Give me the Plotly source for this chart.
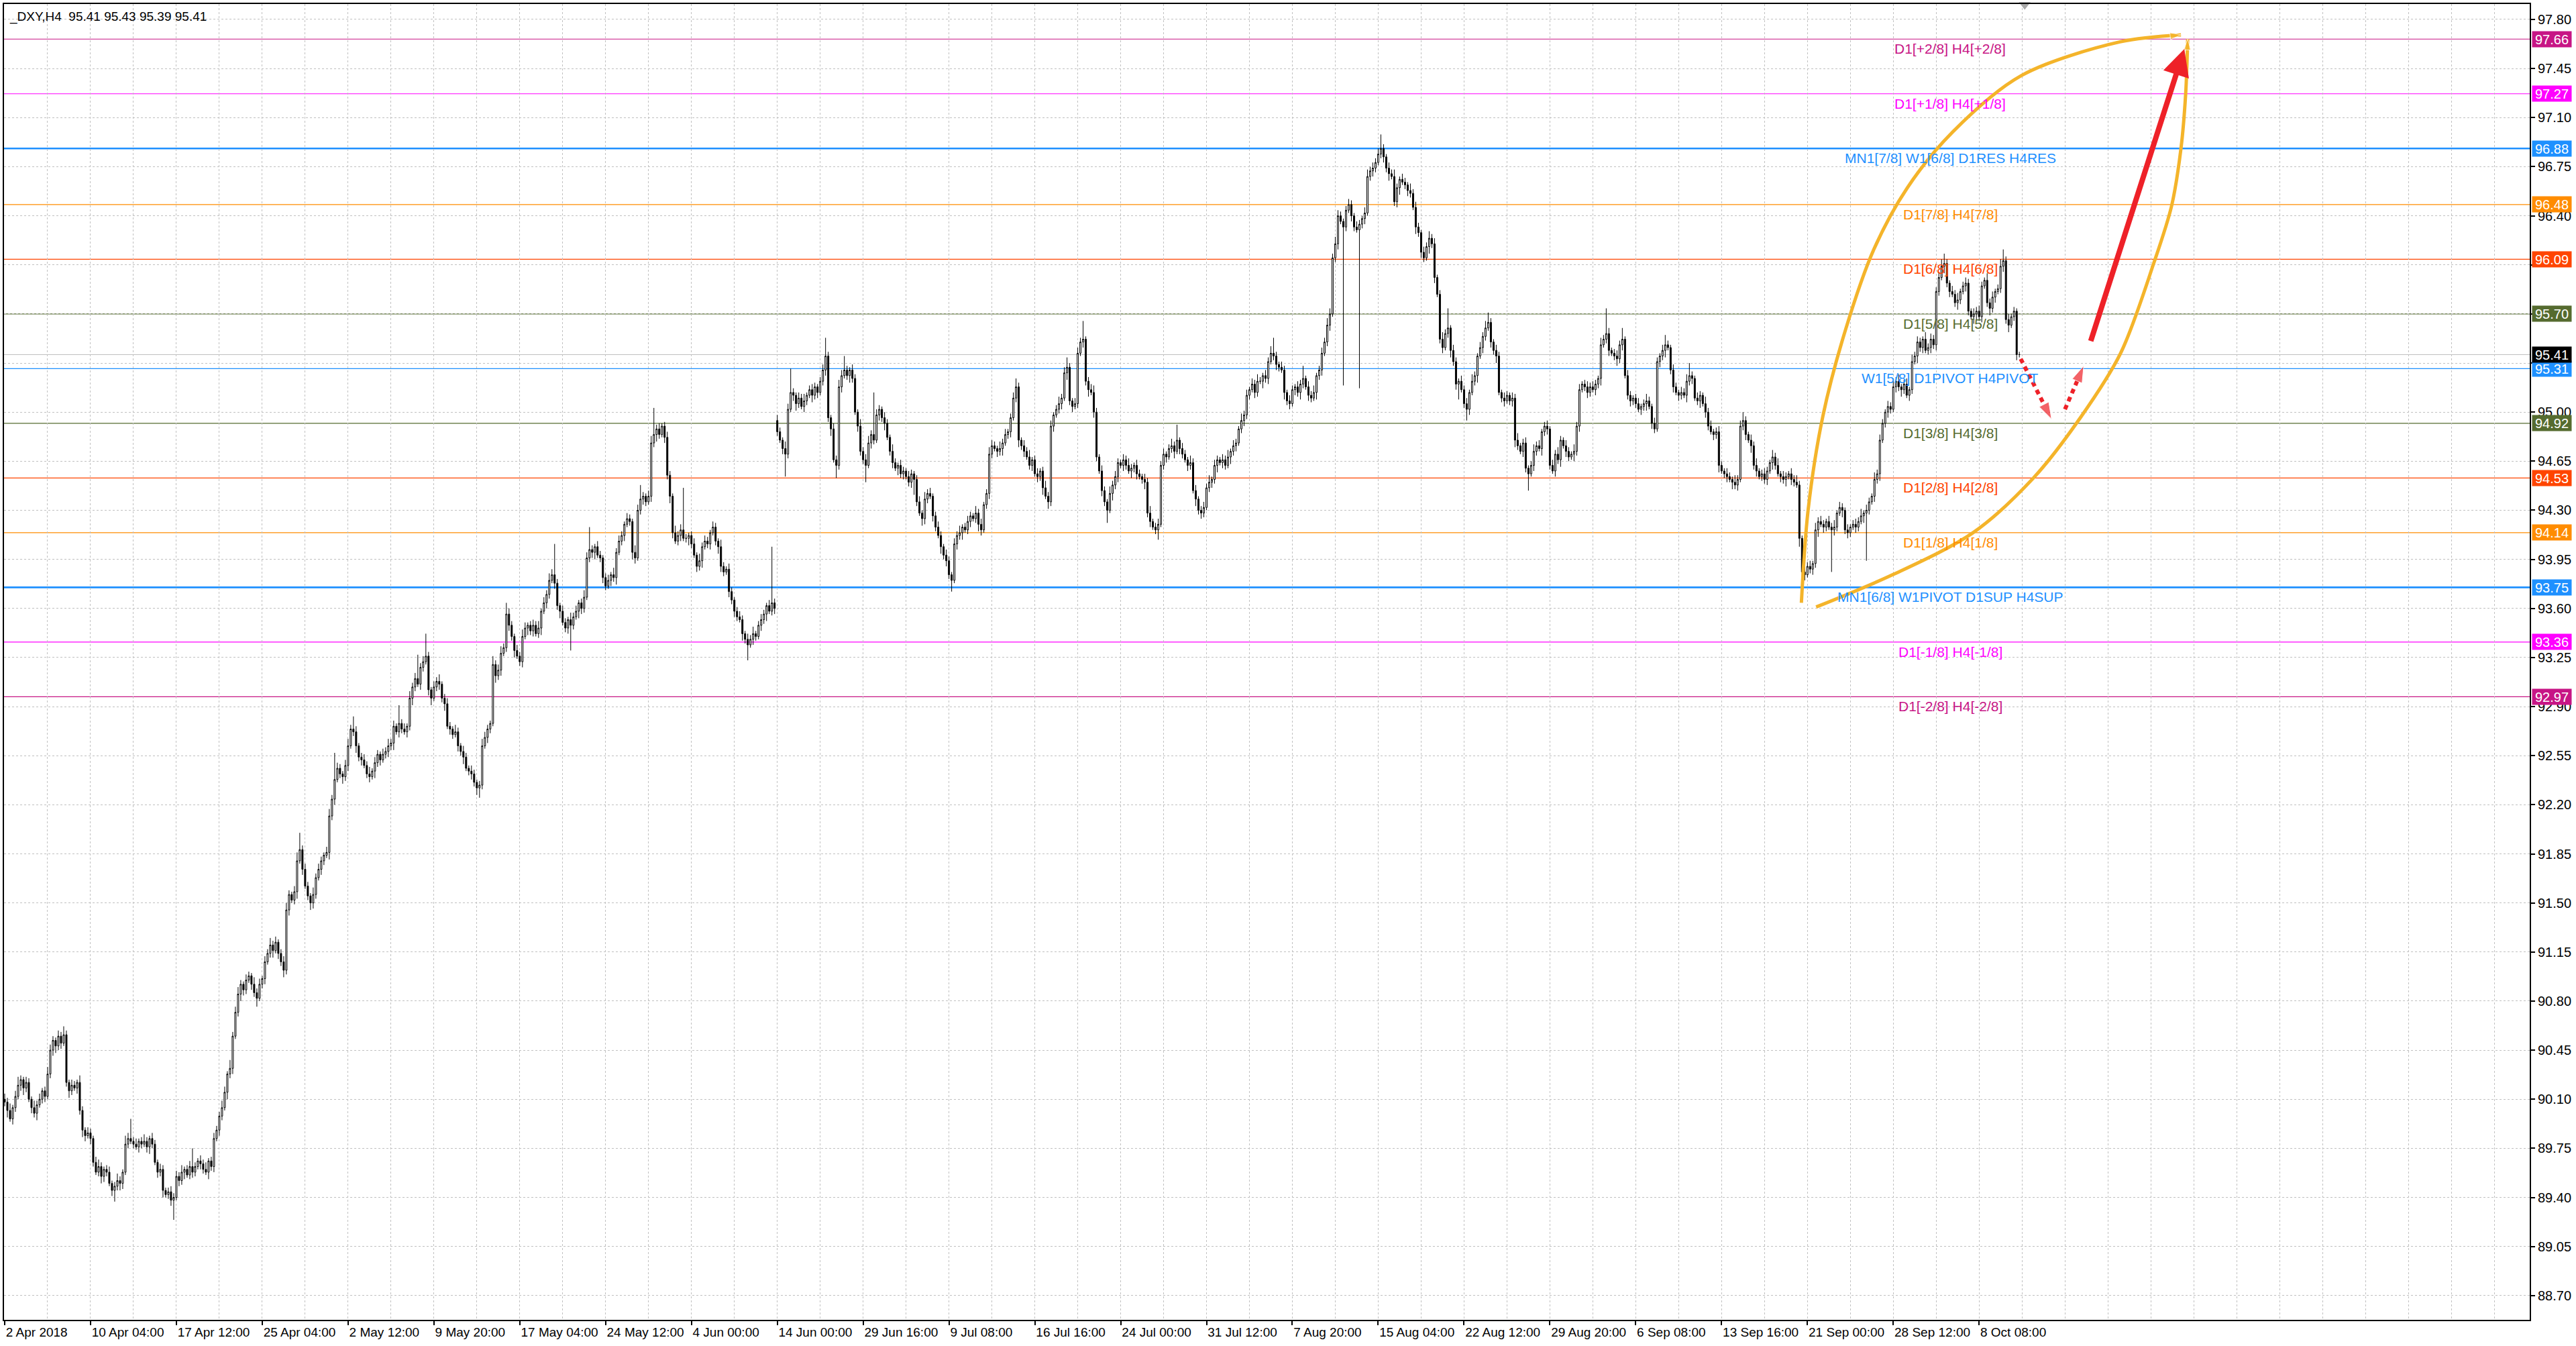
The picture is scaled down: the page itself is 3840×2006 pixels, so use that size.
import plotly.graph_objects as go

# _DXY H4 candles, 2 Apr 2018 .. 10 Oct 2018 (one row = 16 bars)
closes = [
    90.08, 90.02, 89.96, 90.04, 90.12, 90.20, 90.24, 90.18, 90.22, 90.10, 90.04, 90.00, 90.06, 90.10, 90.16, 90.12,
    90.28, 90.45, 90.52, 90.48, 90.55, 90.50, 90.56, 90.22, 90.16, 90.20, 90.18, 90.22, 90.02, 89.88, 89.84, 89.86,
    89.82, 89.65, 89.58, 89.62, 89.55, 89.60, 89.58, 89.50, 89.45, 89.48, 89.52, 89.50, 89.58, 89.78, 89.82, 89.80,
    89.78, 89.76, 89.80, 89.78, 89.80, 89.76, 89.82, 89.78, 89.65, 89.58, 89.60, 89.45, 89.42, 89.44, 89.38, 89.40,
    89.55, 89.52, 89.58, 89.60, 89.56, 89.62, 89.58, 89.62, 89.66, 89.64, 89.60, 89.58, 89.66, 89.62, 89.82, 89.88,
    89.98, 90.04, 90.15, 90.28, 90.32, 90.55, 90.72, 90.85, 90.92, 90.88, 90.95, 90.98, 90.92, 90.86, 90.82, 90.92,
    90.96, 91.08, 91.14, 91.20, 91.16, 91.22, 91.14, 91.08, 91.02, 91.45, 91.56, 91.52, 91.58, 91.80, 91.88, 91.74,
    91.62, 91.55, 91.50, 91.56, 91.68, 91.74, 91.80, 91.84, 91.86, 92.12, 92.24, 92.38, 92.46, 92.42, 92.40, 92.48,
    92.62, 92.74, 92.72, 92.62, 92.54, 92.52, 92.48, 92.42, 92.40, 92.44, 92.50, 92.56, 92.52, 92.56, 92.58, 92.62,
    92.64, 92.76, 92.72, 92.78, 92.74, 92.72, 92.76, 92.96, 93.04, 93.10, 93.06, 93.18, 93.22, 93.26, 93.02, 92.96,
    93.04, 93.08, 93.06, 92.96, 92.92, 92.76, 92.74, 92.70, 92.72, 92.62, 92.58, 92.54, 92.46, 92.44, 92.42, 92.36,
    92.32, 92.34, 92.62, 92.68, 92.74, 92.78, 93.20, 93.12, 93.16, 93.28, 93.32, 93.56, 93.48, 93.40, 93.30, 93.26,
    93.22, 93.40, 93.46, 93.48, 93.44, 93.48, 93.42, 93.46, 93.58, 93.64, 93.70, 93.80, 93.84, 93.78, 93.62, 93.58,
    93.50, 93.46, 93.52, 93.48, 93.54, 93.58, 93.64, 93.60, 93.68, 93.96, 94.02, 94.00, 94.04, 93.98, 93.96, 93.82,
    93.76, 93.80, 93.84, 93.82, 94.00, 94.08, 94.12, 94.20, 94.24, 94.22, 94.00, 93.96, 94.30, 94.38, 94.40, 94.36,
    94.40, 94.78, 94.84, 94.88, 94.84, 94.90, 94.82, 94.55, 94.40, 94.14, 94.08, 94.12, 94.16, 94.10, 94.10, 94.12,
    94.06, 93.98, 93.90, 93.94, 94.04, 94.08, 94.06, 94.14, 94.18, 94.08, 94.04, 93.90, 93.86, 93.88, 93.72, 93.66,
    93.58, 93.54, 93.52, 93.42, 93.38, 93.34, 93.38, 93.42, 93.40, 93.48, 93.52, 93.56, 93.62, 93.58, 93.64, 93.60,
    94.86, 94.80, 94.74, 94.70, 95.02, 95.14, 95.12, 95.06, 95.10, 95.04, 95.08, 95.12, 95.16, 95.12, 95.18, 95.14,
    95.22, 95.30, 95.40, 94.96, 94.88, 94.66, 94.62, 95.18, 95.26, 95.30, 95.26, 95.30, 95.24, 95.00, 94.90, 94.72,
    94.66, 94.62, 94.78, 94.84, 94.80, 94.98, 95.02, 94.96, 94.92, 94.82, 94.72, 94.64, 94.60, 94.62, 94.56, 94.58,
    94.54, 94.50, 94.56, 94.52, 94.36, 94.28, 94.24, 94.38, 94.42, 94.40, 94.26, 94.18, 94.12, 94.04, 93.98, 93.94,
    93.84, 93.80, 94.06, 94.12, 94.14, 94.18, 94.16, 94.22, 94.26, 94.24, 94.28, 94.20, 94.16, 94.34, 94.42, 94.70,
    94.76, 94.74, 94.72, 94.74, 94.78, 94.84, 94.86, 94.96, 95.10, 95.18, 94.80, 94.76, 94.72, 94.68, 94.62, 94.66,
    94.56, 94.54, 94.58, 94.46, 94.40, 94.36, 94.90, 94.98, 95.02, 95.06, 95.10, 95.28, 95.32, 95.08, 95.04, 95.06,
    95.42, 95.50, 95.52, 95.22, 95.16, 95.14, 95.00, 94.68, 94.58, 94.44, 94.36, 94.30, 94.42, 94.48, 94.54, 94.64,
    94.62, 94.66, 94.62, 94.58, 94.60, 94.62, 94.56, 94.54, 94.52, 94.50, 94.28, 94.22, 94.18, 94.16, 94.20, 94.62,
    94.70, 94.68, 94.74, 94.76, 94.72, 94.80, 94.74, 94.70, 94.66, 94.62, 94.64, 94.44, 94.38, 94.30, 94.28, 94.32,
    94.46, 94.50, 94.52, 94.62, 94.66, 94.64, 94.66, 94.62, 94.68, 94.72, 94.76, 94.78, 94.88, 94.94, 94.98, 95.12,
    95.16, 95.20, 95.14, 95.22, 95.22, 95.26, 95.24, 95.36, 95.42, 95.40, 95.34, 95.32, 95.30, 95.14, 95.08, 95.06,
    95.16, 95.18, 95.14, 95.20, 95.24, 95.18, 95.12, 95.10, 95.14, 95.26, 95.30, 95.42, 95.50, 95.62, 95.70, 96.10,
    96.20, 96.40, 96.36, 96.32, 96.44, 96.48, 96.40, 96.32, 96.30, 96.34, 96.38, 96.42, 96.68, 96.72, 96.74, 96.78,
    96.84, 96.88, 96.82, 96.74, 96.70, 96.68, 96.50, 96.60, 96.66, 96.64, 96.62, 96.58, 96.56, 96.46, 96.32, 96.28,
    96.14, 96.10, 96.18, 96.24, 96.20, 95.96, 95.84, 95.52, 95.46, 95.56, 95.60, 95.44, 95.36, 95.20, 95.22, 95.16,
    95.06, 95.02, 95.14, 95.22, 95.26, 95.40, 95.46, 95.54, 95.60, 95.64, 95.50, 95.44, 95.40, 95.14, 95.10, 95.08,
    95.12, 95.08, 95.10, 94.80, 94.76, 94.72, 94.78, 94.60, 94.56, 94.62, 94.72, 94.76, 94.74, 94.86, 94.90, 94.88,
    94.62, 94.58, 94.70, 94.66, 94.80, 94.76, 94.72, 94.68, 94.70, 94.72, 94.90, 95.16, 95.20, 95.18, 95.14, 95.18,
    95.16, 95.20, 95.24, 95.48, 95.52, 95.56, 95.44, 95.42, 95.40, 95.38, 95.48, 95.52, 95.26, 95.12, 95.08, 95.10,
    95.06, 95.02, 95.04, 95.06, 95.08, 95.04, 94.92, 94.88, 95.36, 95.40, 95.44, 95.48, 95.46, 95.30, 95.18, 95.14,
    95.12, 95.14, 95.12, 95.22, 95.26, 95.24, 95.10, 95.08, 95.12, 95.06, 95.00, 94.90, 94.86, 94.84, 94.86, 94.62,
    94.58, 94.56, 94.54, 94.52, 94.50, 94.48, 94.52, 94.90, 94.94, 94.84, 94.80, 94.76, 94.62, 94.58, 94.54, 94.56,
    94.52, 94.58, 94.64, 94.68, 94.62, 94.56, 94.54, 94.52, 94.54, 94.56, 94.52, 94.50, 94.48, 94.10, 93.86, 93.84,
    93.90, 93.88, 93.92, 94.16, 94.22, 94.20, 94.18, 94.22, 94.18, 94.16, 94.18, 94.28, 94.32, 94.30, 94.16, 94.14,
    94.18, 94.20, 94.18, 94.22, 94.26, 94.28, 94.30, 94.36, 94.40, 94.52, 94.56, 94.80, 94.92, 95.00, 95.04, 95.02,
    95.18, 95.22, 95.18, 95.16, 95.20, 95.12, 95.16, 95.36, 95.40, 95.50, 95.46, 95.52, 95.44, 95.46, 95.52, 95.48,
    95.86, 95.96, 96.04, 96.06, 95.92, 95.86, 95.84, 95.78, 95.80, 95.86, 95.90, 95.92, 95.72, 95.68, 95.70, 95.72,
    95.68, 95.90, 95.94, 95.78, 95.74, 95.82, 95.86, 95.88, 96.04, 96.08, 95.66, 95.62, 95.68, 95.72, 95.41, 95.41,
]

# wick lengths above / below the body, in hundredths
upper_wicks = [
    4, 3, 5, 2, 4, 6, 3, 2, 4, 3, 2, 5, 3, 4, 2, 3,
    5, 4, 3, 2, 4, 3, 6, 3, 2, 4, 3, 2, 5, 3, 2, 4,
    3, 2, 4, 5, 3, 2, 3, 4, 2, 3, 5, 3, 2, 6, 4, 14,
    3, 4, 2, 3, 5, 3, 2, 4, 3, 2, 4, 3, 2, 3, 4, 3,
    4, 3, 5, 2, 3, 4, 13, 3, 2, 4, 3, 5, 2, 3, 4, 3,
    3, 5, 4, 2, 6, 3, 4, 5, 3, 2, 4, 3, 2, 5, 3, 4,
    2, 4, 3, 5, 3, 4, 2, 3, 4, 5, 3, 2, 4, 6, 12, 3,
    4, 3, 2, 5, 3, 4, 3, 2, 4, 5, 3, 19, 4, 3, 2, 4,
    5, 3, 9, 4, 2, 3, 4, 3, 5, 2, 4, 3, 2, 4, 3, 5,
    3, 4, 2, 13, 3, 4, 2, 5, 3, 4, 17, 3, 4, 16, 3, 2,
    4, 3, 5, 2, 3, 4, 3, 2, 5, 3, 2, 4, 3, 2, 4, 3,
    2, 3, 5, 4, 3, 2, 6, 3, 4, 5, 3, 8, 4, 3, 2, 4,
    3, 5, 4, 2, 3, 4, 3, 5, 2, 4, 3, 5, 4, 22, 3, 2,
    4, 3, 2, 5, 3, 4, 2, 3, 5, 4, 16, 3, 2, 4, 3, 2,
    3, 4, 2, 5, 3, 4, 3, 2, 4, 3, 2, 5, 4, 10, 3, 2,
    4, 5, 19, 3, 4, 2, 3, 4, 3, 2, 5, 3, 4, 30, 3, 2,
    3, 4, 2, 5, 3, 4, 3, 2, 4, 3, 2, 5, 3, 2, 4, 3,
    2, 3, 4, 3, 2, 4, 3, 5, 2, 3, 4, 3, 2, 4, 40, 3,
    4, 3, 2, 5, 4, 17, 3, 2, 4, 3, 5, 2, 3, 4, 3, 2,
    3, 4, 13, 3, 2, 4, 3, 5, 4, 10, 3, 2, 4, 3, 2, 5,
    3, 4, 5, 3, 30, 4, 3, 2, 4, 3, 2, 5, 3, 2, 4, 3,
    2, 4, 3, 2, 3, 4, 2, 5, 3, 4, 2, 3, 4, 3, 2, 4,
    3, 2, 4, 3, 5, 2, 3, 4, 3, 2, 5, 3, 4, 2, 3, 5,
    4, 3, 2, 5, 3, 4, 2, 3, 4, 6, 3, 2, 4, 3, 5, 2,
    3, 4, 2, 3, 5, 3, 4, 2, 3, 5, 3, 4, 7, 3, 2, 4,
    4, 3, 13, 2, 3, 4, 5, 3, 2, 4, 3, 2, 5, 3, 4, 3,
    2, 4, 3, 5, 3, 2, 4, 3, 2, 4, 3, 5, 2, 3, 4, 3,
    4, 2, 3, 5, 3, 11, 2, 4, 3, 2, 5, 3, 4, 2, 3, 4,
    3, 5, 2, 4, 3, 2, 4, 3, 5, 2, 4, 3, 2, 5, 3, 4,
    2, 4, 3, 5, 3, 2, 4, 3, 5, 11, 3, 2, 4, 3, 2, 4,
    3, 2, 4, 3, 9, 2, 4, 3, 5, 2, 3, 4, 3, 5, 4, 3,
    5, 4, 3, 2, 3, 4, 3, 2, 4, 3, 2, 4, 5, 3, 4, 3,
    4, 10, 3, 2, 4, 3, 5, 3, 2, 4, 3, 2, 5, 3, 4, 3,
    2, 4, 3, 5, 3, 4, 2, 3, 5, 3, 14, 2, 4, 3, 2, 4,
    3, 4, 2, 5, 3, 2, 4, 3, 5, 7, 3, 2, 4, 3, 2, 4,
    3, 2, 4, 3, 5, 2, 3, 4, 2, 3, 5, 3, 4, 2, 3, 4,
    2, 4, 3, 5, 3, 2, 4, 3, 2, 5, 3, 4, 2, 3, 4, 3,
    4, 3, 2, 5, 3, 18, 4, 2, 3, 4, 3, 8, 2, 4, 3, 2,
    3, 4, 2, 3, 5, 3, 2, 4, 3, 2, 4, 7, 3, 2, 4, 3,
    2, 4, 3, 5, 9, 3, 2, 4, 3, 2, 5, 3, 4, 2, 3, 4,
    3, 2, 4, 3, 2, 5, 3, 4, 6, 3, 2, 4, 3, 5, 2, 3,
    4, 3, 2, 5, 3, 5, 2, 4, 3, 2, 4, 3, 5, 3, 2, 4,
    3, 4, 2, 5, 3, 4, 3, 2, 4, 3, 5, 2, 4, 3, 2, 4,
    2, 3, 4, 3, 5, 2, 4, 3, 2, 5, 3, 4, 3, 2, 4, 3,
    4, 3, 5, 2, 3, 4, 2, 5, 3, 4, 3, 2, 5, 3, 4, 3,
    3, 4, 5, 7, 3, 2, 4, 3, 5, 2, 3, 4, 3, 2, 4, 3,
    4, 3, 2, 5, 3, 4, 2, 3, 5, 8, 3, 4, 2, 3, 2, 2,
]
lower_wicks = [
    3, 5, 2, 4, 3, 2, 4, 5, 3, 2, 4, 3, 5, 2, 3, 4,
    2, 3, 4, 5, 3, 4, 2, 3, 5, 3, 2, 4, 3, 5, 4, 2,
    4, 3, 2, 3, 5, 4, 3, 2, 4, 8, 3, 5, 4, 2, 3, 2,
    3, 2, 4, 3, 2, 4, 5, 3, 2, 4, 3, 5, 2, 3, 4, 14,
    2, 4, 3, 5, 2, 3, 4, 3, 2, 4, 3, 2, 5, 3, 4, 2,
    4, 3, 2, 5, 3, 4, 2, 3, 5, 4, 3, 2, 4, 3, 6, 2,
    3, 4, 2, 3, 5, 2, 4, 3, 5, 3, 4, 2, 3, 5, 2, 4,
    2, 3, 5, 4, 3, 2, 4, 3, 2, 5, 3, 4, 2, 3, 5, 3,
    4, 2, 3, 5, 3, 4, 2, 3, 4, 2, 5, 3, 4, 2, 3, 4,
    3, 5, 2, 4, 3, 2, 4, 3, 5, 3, 2, 4, 3, 2, 4, 5,
    2, 3, 4, 3, 5, 2, 4, 3, 2, 4, 3, 5, 2, 3, 4, 3,
    5, 7, 3, 2, 4, 3, 2, 5, 3, 4, 2, 3, 4, 3, 5, 2,
    3, 4, 2, 5, 3, 4, 2, 3, 5, 2, 4, 3, 2, 4, 3, 5,
    2, 3, 4, 18, 3, 2, 5, 4, 3, 2, 3, 4, 5, 2, 3, 4,
    3, 2, 4, 3, 5, 2, 3, 4, 2, 3, 5, 4, 2, 3, 4, 3,
    2, 4, 3, 5, 3, 2, 4, 3, 5, 4, 2, 3, 4, 2, 3, 5,
    3, 2, 4, 3, 5, 2, 3, 4, 2, 3, 5, 4, 3, 2, 4, 3,
    4, 3, 2, 5, 3, 11, 2, 4, 3, 2, 4, 3, 5, 2, 3, 4,
    3, 2, 4, 16, 3, 2, 4, 5, 3, 2, 4, 3, 2, 5, 3, 4,
    2, 3, 4, 3, 5, 2, 9, 3, 4, 2, 3, 5, 3, 2, 4, 3,
    3, 12, 2, 4, 3, 2, 4, 3, 5, 2, 3, 4, 2, 5, 3, 4,
    2, 3, 4, 11, 3, 2, 5, 4, 3, 2, 4, 3, 2, 5, 3, 4,
    3, 8, 2, 4, 3, 5, 2, 3, 4, 2, 3, 5, 4, 2, 3, 4,
    3, 2, 4, 3, 5, 2, 3, 4, 2, 3, 5, 3, 4, 2, 3, 4,
    2, 4, 3, 5, 2, 5, 3, 4, 2, 3, 4, 2, 5, 3, 4, 2,
    3, 2, 4, 3, 5, 2, 4, 3, 2, 4, 3, 9, 2, 5, 3, 4,
    2, 4, 3, 2, 5, 3, 4, 2, 3, 5, 3, 4, 2, 3, 7, 2,
    3, 4, 2, 3, 5, 2, 4, 3, 2, 4, 3, 2, 5, 3, 4, 3,
    2, 3, 4, 3, 5, 2, 4, 3, 2, 5, 3, 4, 2, 3, 4, 3,
    3, 2, 4, 3, 2, 5, 3, 4, 2, 3, 4, 3, 2, 5, 3, 4,
    2, 4, 3, 5, 3, 2, 4, 3, 2, 5, 3, 4, 2, 3, 4, 2,
    3, 4, 2, 113, 3, 2, 4, 3, 2, 113, 3, 4, 2, 3, 4, 3,
    2, 3, 4, 3, 5, 2, 3, 4, 5, 2, 3, 4, 3, 2, 5, 3,
    4, 3, 2, 5, 3, 4, 2, 3, 4, 2, 3, 5, 3, 4, 11, 2,
    3, 8, 4, 2, 3, 5, 2, 4, 3, 2, 4, 3, 5, 2, 3, 4,
    2, 3, 4, 5, 3, 2, 4, 3, 12, 2, 4, 3, 2, 5, 3, 4,
    3, 2, 4, 3, 5, 2, 4, 3, 2, 5, 3, 4, 2, 3, 4, 3,
    2, 4, 3, 5, 2, 3, 4, 2, 3, 5, 3, 4, 2, 3, 4, 3,
    3, 2, 4, 3, 5, 2, 4, 3, 2, 4, 3, 5, 2, 3, 4, 2,
    4, 3, 2, 5, 3, 4, 2, 3, 5, 2, 4, 3, 2, 4, 3, 5,
    2, 3, 4, 2, 5, 3, 4, 2, 3, 4, 2, 5, 3, 4, 2, 3,
    3, 4, 2, 5, 3, 2, 4, 3, 5, 2, 4, 3, 2, 6, 3, 4,
    2, 3, 4, 3, 5, 2, 4, 3, 2, 30, 4, 3, 2, 5, 3, 4,
    3, 2, 4, 3, 2, 5, 34, 3, 2, 4, 3, 5, 2, 3, 4, 3,
    2, 4, 3, 5, 3, 2, 4, 3, 2, 5, 3, 4, 2, 3, 4, 3,
    4, 3, 2, 5, 3, 4, 2, 3, 5, 3, 2, 4, 3, 2, 5, 4,
    3, 4, 2, 3, 5, 3, 4, 2, 3, 4, 3, 5, 2, 3, 4, 2,
]

first_open = 90.10
gap_bars = [288]          # data hole 4 Jun -> 14 Jun
gap_opens = [94.94]

tick_labels = ["2 Apr 2018", "10 Apr 04:00", "17 Apr 12:00", "25 Apr 04:00", "2 May 12:00",
               "9 May 20:00", "17 May 04:00", "24 May 12:00", "4 Jun 00:00", "14 Jun 00:00",
               "29 Jun 16:00", "9 Jul 08:00", "16 Jul 16:00", "24 Jul 00:00", "31 Jul 12:00",
               "7 Aug 20:00", "15 Aug 04:00", "22 Aug 12:00", "29 Aug 20:00", "6 Sep 08:00",
               "13 Sep 16:00", "21 Sep 00:00", "28 Sep 12:00", "8 Oct 08:00"]

# Murrey math levels
level_values = [97.66, 97.27, 96.88, 96.48, 96.09, 95.70, 95.31, 94.92, 94.53, 94.14, 93.75, 93.36, 92.97]
level_names = ["D1[+2/8] H4[+2/8]", "D1[+1/8] H4[+1/8]", "MN1[7/8] W1[6/8] D1RES H4RES",
               "D1[7/8] H4[7/8]", "D1[6/8] H4[6/8]", "D1[5/8] H4[5/8]", "W1[5/8] D1PIVOT H4PIVOT",
               "D1[3/8] H4[3/8]", "D1[2/8] H4[2/8]", "D1[1/8] H4[1/8]", "MN1[6/8] W1PIVOT D1SUP H4SUP",
               "D1[-1/8] H4[-1/8]", "D1[-2/8] H4[-2/8]"]
level_colors = ["#C71585", "#FF00FF", "#1E90FF", "#FF8C00", "#FF4500", "#556B2F", "#1E90FF",
                "#556B2F", "#FF4500", "#FF8C00", "#1E90FF", "#FF00FF", "#C71585"]
level_widths = [1.2, 1.2, 2.6, 1.2, 1.2, 1.2, 1.2, 1.2, 1.2, 1.2, 2.6, 1.2, 1.2]

# hand drawn objects (bar index, price)
leaf_left_x = [669.75, 672.25, 677.75, 686.25, 696.75, 709.25, 726.25, 751.75, 788.5, 811.25]
leaf_left_y = [93.64, 94.30, 94.97, 95.59, 96.16, 96.60, 97.00, 97.40, 97.64, 97.69]
leaf_right_x = [675.25, 703.75, 733.75, 756.25, 773.75, 788.75, 801.25, 807.75, 811.25, 813.0, 813.75]
leaf_right_y = [93.61, 93.84, 94.14, 94.53, 94.96, 95.42, 96.07, 96.47, 96.88, 97.27, 97.66]
red_arrow_x = [777.5, 812.5]
red_arrow_y = [95.50, 97.59]
dot_arrow1_x = [751.5, 763.0]
dot_arrow1_y = [95.38, 94.95]
dot_arrow2_x = [768.0, 775.0]
dot_arrow2_y = [95.02, 95.33]

FONT = "Liberation Sans, Arial, sans-serif"
ORANGE = "#F4B42A"
RED = "#EE2128"
GRID = "#C0C0C0"

n = len(closes)
bars = list(range(n))
opens = [first_open] + closes[:-1]
for b, o in zip(gap_bars, gap_opens):
    opens[b] = o
highs = [max(o, c) + u / 100 for o, c, u in zip(opens, closes, upper_wicks)]
lows = [min(o, c) - d / 100 for o, c, d in zip(opens, closes, lower_wicks)]

fig = go.Figure()

fig.add_trace(go.Candlestick(
    x=bars, open=opens, high=highs, low=lows, close=closes,
    increasing=dict(line=dict(color="black", width=1), fillcolor="white"),
    decreasing=dict(line=dict(color="black", width=1), fillcolor="black"),
    whiskerwidth=0, hoverinfo="skip", showlegend=False,
))

# the leaf shaped curves
for xs, ys in [(leaf_left_x, leaf_left_y), (leaf_right_x, leaf_right_y)]:
    fig.add_trace(go.Scatter(
        x=xs, y=ys, mode="lines+markers",
        line=dict(color=ORANGE, width=5, shape="spline", smoothing=0.9),
        marker=dict(symbol="arrow", angleref="previous", color=ORANGE,
                    size=[0] * (len(xs) - 1) + [17]),
        hoverinfo="skip", showlegend=False, cliponaxis=False,
    ))

# dotted red arrows
for xs, ys in [(dot_arrow1_x, dot_arrow1_y), (dot_arrow2_x, dot_arrow2_y)]:
    fig.add_trace(go.Scatter(
        x=xs, y=ys, mode="lines+markers",
        line=dict(color=RED, width=6, dash="7px,6px"),
        marker=dict(symbol="arrow", angleref="previous", color=RED, size=[0, 26]),
        hoverinfo="skip", showlegend=False,
    ))

# chart shift marker at the top
fig.add_trace(go.Scatter(
    x=[753], y=[97.905], mode="markers",
    marker=dict(symbol="triangle-down", size=15, color="#A8A8A8"),
    hoverinfo="skip", showlegend=False, cliponaxis=False,
))

shapes = []
annotations = []
for val, name, col, w in zip(level_values, level_names, level_colors, level_widths):
    shapes.append(dict(type="line", xref="paper", x0=0, x1=1, yref="y", y0=val, y1=val,
                       line=dict(color=col, width=w), layer="between"))
    annotations.append(dict(x=725.25, y=val, xref="x", yref="y", text=name, showarrow=False,
                            xanchor="center", yanchor="top", yshift=-1,
                            font=dict(family=FONT, size=21, color=col)))
    annotations.append(dict(x=1, y=val, xref="paper", yref="y", text=f"{val:.2f}",
                            showarrow=False, xanchor="left", yanchor="middle", xshift=3,
                            bgcolor=col, width=56, height=21, borderpad=1,
                            font=dict(family=FONT, size=20, color="white")))

last = closes[-1]
shapes.append(dict(type="line", xref="paper", x0=0, x1=1, yref="y", y0=last, y1=last,
                   line=dict(color="#C0C0C0", width=1.2), layer="between"))
annotations.append(dict(x=1, y=last, xref="paper", yref="y", text=f"{last:.2f}",
                        showarrow=False, xanchor="left", yanchor="middle", xshift=3,
                        bgcolor="black", width=56, height=21, borderpad=1,
                        font=dict(family=FONT, size=20, color="white")))

# header with OHLC of the last bar
annotations.append(dict(
    x=0, y=1, xref="paper", yref="paper", xanchor="left", yanchor="top", xshift=6, yshift=-6,
    text=f"_DXY,H4\u00a0\u00a0{opens[-1]:.2f} {highs[-1]:.2f} {lows[-1]:.2f} {closes[-1]:.2f}",
    showarrow=False, font=dict(family=FONT, size=19, color="black"),
))

# solid red arrow
annotations.append(dict(
    x=red_arrow_x[1], y=red_arrow_y[1], ax=red_arrow_x[0], ay=red_arrow_y[0],
    xref="x", yref="y", axref="x", ayref="y", text="", showarrow=True,
    arrowhead=2, arrowsize=1.0, arrowwidth=8, arrowcolor=RED, standoff=0,
))

major_ticks = [32 * k for k in range(len(tick_labels))]
minor_ticks = [v for v in range(16, 942, 16) if v not in major_ticks]
price_ticks = [round(88.70 + 0.35 * k, 2) for k in range(27)]
hidden = [96.05, 95.70, 95.35]   # covered by level boxes
price_text = ["" if p in hidden else f"{p:.2f}" for p in price_ticks]

fig.update_layout(
    width=3840, height=2006,
    margin=dict(l=4, r=69, t=4, b=39),
    paper_bgcolor="white", plot_bgcolor="white",
    showlegend=False, hovermode=False,
    shapes=shapes, annotations=annotations,
    font=dict(family=FONT, size=19, color="black"),
    xaxis=dict(
        range=[-0.25, 941.25], rangeslider=dict(visible=False),
        tickmode="array", tickvals=major_ticks, ticktext=tick_labels,
        ticklabelposition="outside right",
        ticks="outside", ticklen=6, tickwidth=1.5, tickcolor="black",
        tickfont=dict(family=FONT, size=19, color="black"),
        showgrid=True, gridcolor=GRID, griddash="3px,3px", gridwidth=1,
        minor=dict(tickvals=minor_ticks, showgrid=True, gridcolor=GRID,
                   griddash="3px,3px", gridwidth=1, ticks=""),
        showline=True, linecolor="black", linewidth=2, mirror=True,
        zeroline=False, fixedrange=True,
    ),
    yaxis=dict(
        side="right", range=[88.527, 97.910],
        tickmode="array", tickvals=price_ticks, ticktext=price_text,
        ticks="outside", ticklen=6, tickwidth=1.5, tickcolor="black",
        tickfont=dict(family=FONT, size=20, color="black"),
        showgrid=True, gridcolor=GRID, griddash="3px,3px", gridwidth=1,
        showline=True, linecolor="black", linewidth=2, mirror=True,
        zeroline=False, fixedrange=True,
    ),
)

fig.write_html("out.html", config={"displayModeBar": False},
               post_script="document.body.style.margin='0';document.body.style.overflow='hidden';")
